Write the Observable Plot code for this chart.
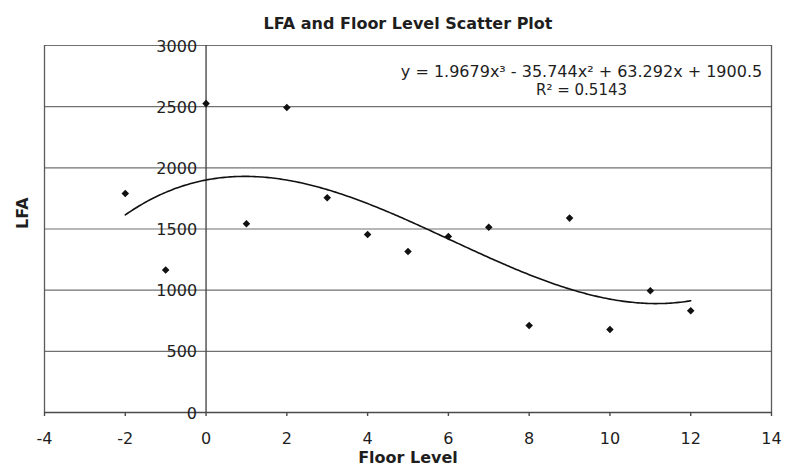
<!DOCTYPE html>
<html>
<head>
<meta charset="utf-8">
<script src="https://cdn.jsdelivr.net/npm/d3@7"></script>
<script src="https://cdn.jsdelivr.net/npm/@observablehq/plot@0.6"></script>
<style>
  html, body { margin: 0; padding: 0; background: #fff; }
  #chart { width: 787px; height: 474px; }
</style>
</head>
<body>
<div id="chart"></div>
<script>
// ---- data ----
const floorLevel = [-2, -1, 0, 1, 2, 3, 4, 5, 6, 7, 8, 9, 10, 11, 12];
const lfaValues  = [1790, 1165, 2525, 1543, 2493, 1756, 1455, 1316, 1439, 1515, 711, 1589, 679, 996, 832];
// cubic trendline coefficients as printed on the chart (a3, a2, a1, a0)
const trendCoef = [1.9679, -35.744, 63.292, 1900.5];
const trendRange = [-2, 12];
const xTicks = [-4, -2, 0, 2, 4, 6, 8, 10, 12, 14];
const yTicks = [0, 500, 1000, 1500, 2000, 2500, 3000];
const titleText = "LFA and Floor Level Scatter Plot";
const xLabel = "Floor Level";
const yLabel = "LFA";
const eqText = "y = 1.9679x³ - 35.744x² + 63.292x + 1900.5";
const r2Text = "R² = 0.5143";

const points = floorLevel.map((f, i) => ({x: f, y: lfaValues[i]}));
const trend = d3.range(trendRange[0], trendRange[1] + 1e-9, 0.05).map(x => ({
  x,
  y: ((trendCoef[0] * x + trendCoef[1]) * x + trendCoef[2]) * x + trendCoef[3]
}));

const FONT = "DejaVu Sans";
const INK = "#1e1e1e";

const chart = Plot.plot({
  width: 787,
  height: 474,
  marginLeft: 44,
  marginRight: 16,
  marginTop: 45,
  marginBottom: 62,
  style: {fontFamily: FONT, background: "#fff", color: INK},
  x: {domain: [-4, 14], axis: null},
  y: {domain: [0, 3000], axis: null},
  marks: [
    // horizontal gridlines
    Plot.ruleY(yTicks.filter(d => d > 0), {y: d => d, stroke: "#707070", strokeWidth: 1.2}),
    // plot-area side borders
    Plot.ruleX([xTicks[0], xTicks[xTicks.length - 1]], {x: d => d, stroke: "#5a5a5a", strokeWidth: 1.3}),
    // vertical axis crossing at x = 0
    Plot.ruleX([0], {x: d => d, y1: 0, y2: 3000, stroke: "#4a4a4a", strokeWidth: 1.4}),
    // horizontal axis
    Plot.ruleY([0], {y: d => d, stroke: "#4a4a4a", strokeWidth: 1.4}),
    // x tick marks
    Plot.ruleX(xTicks, {x: d => d, y1: 0, y2: 0, insetBottom: -4, stroke: "#4a4a4a", strokeWidth: 1.4}),
    // x tick labels
    Plot.text(xTicks, {x: d => d, y: 0, text: d => String(d), dy: 26, fontSize: 16, fill: INK, textAnchor: "middle"}),
    // y tick labels next to the axis at x = 0
    Plot.text(yTicks, {x: 0, y: d => d, text: d => String(d), dx: -9, dy: 1, fontSize: 16, fill: INK, textAnchor: "end"}),
    // trendline
    Plot.line(trend, {x: "x", y: "y", stroke: "#111", strokeWidth: 1.6, curve: "linear"}),
    // data points
    Plot.dot(points, {x: "x", y: "y", symbol: "diamond2", r: 3.4, fill: "#111", stroke: "none"}),
    // equation and R²
    Plot.text([eqText], {frameAnchor: "top-right", textAnchor: "middle", dx: -190, dy: 20, fontSize: 16, fill: INK}),
    Plot.text([r2Text], {frameAnchor: "top-right", textAnchor: "middle", dx: -190, dy: 39, fontSize: 15, fill: INK}),
    // title
    Plot.text([titleText], {frameAnchor: "top", dy: -28, fontSize: 16, fontWeight: "bold", fill: INK}),
    // axis titles
    Plot.text([xLabel], {frameAnchor: "bottom", dy: 50.5, fontSize: 16, fontWeight: "bold", fill: INK}),
    Plot.text([yLabel], {frameAnchor: "left", dx: -22, rotate: -90, fontSize: 16, fontWeight: "bold", fill: INK})
  ]
});
document.getElementById("chart").appendChild(chart);
</script>
</body>
</html>
